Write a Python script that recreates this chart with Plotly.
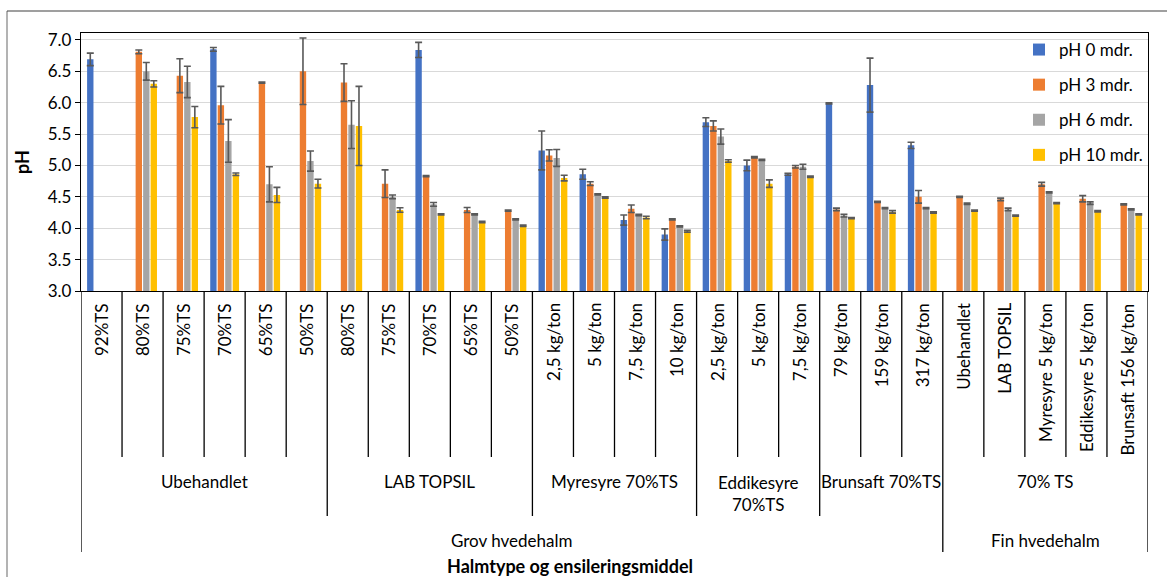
import plotly.graph_objects as go

# ---------------- data ----------------
categories = ["92%TS", "80%TS", "75%TS", "70%TS", "65%TS", "50%TS",
              "80%TS", "75%TS", "70%TS", "65%TS", "50%TS",
              "2,5 kg/ton", "5 kg/ton", "7,5 kg/ton", "10 kg/ton",
              "2,5 kg/ton", "5 kg/ton", "7,5 kg/ton",
              "79 kg/ton", "159 kg/ton", "317 kg/ton",
              "Ubehandlet", "LAB TOPSIL", "Myresyre 5 kg/ton",
              "Eddikesyre 5 kg/ton", "Brunsaft 156 kg/ton"]

group_labels = ["Ubehandlet", "LAB TOPSIL", "Myresyre 70%TS",
                "Eddikesyre<br>70%TS", "Brunsaft 70%TS", "70% TS"]
group_sizes = [6, 5, 4, 3, 3, 5]

straw_labels = ["Grov hvedehalm", "Fin hvedehalm"]
straw_sizes = [21, 5]

series_names = ["pH 0 mdr.", "pH 3 mdr.", "pH 6 mdr.", "pH 10 mdr."]

ph0 = [6.69, None, None, 6.85, None, None, None, None, 6.84, None, None,
       5.24, 4.86, 4.13, 3.90, 5.69, 5.00, 4.86, 5.99, 6.28, 5.32,
       None, None, None, None, None]
err0 = [0.10, 0, 0, 0.03, 0, 0, 0, 0, 0.12, 0, 0,
        0.31, 0.08, 0.08, 0.09, 0.07, 0.085, 0.015, 0.01, 0.43, 0.05,
        0, 0, 0, 0, 0]

ph3 = [None, 6.81, 6.43, 5.96, 6.32, 6.50, 6.32, 4.71, 4.83, 4.29, 4.28,
       5.16, 4.71, 4.31, 4.14, 5.63, 5.13, 4.98, 4.30, 4.42, 4.50,
       4.50, 4.46, 4.70, 4.47, 4.38]
err3 = [0, 0.03, 0.27, 0.30, 0.01, 0.53, 0.30, 0.22, 0.01, 0.04, 0.01,
        0.09, 0.03, 0.06, 0.01, 0.08, 0.01, 0.02, 0.02, 0.01, 0.10,
        0.01, 0.02, 0.03, 0.05, 0.01]

ph6 = [None, 6.50, 6.33, 5.39, 4.70, 5.07, 5.65, 4.50, 4.38, 4.22, 4.14,
       5.12, 4.54, 4.21, 4.03, 5.46, 5.09, 4.98, 4.20, 4.32, 4.32,
       4.39, 4.30, 4.57, 4.40, 4.30]
err6 = [0, 0.14, 0.25, 0.34, 0.28, 0.16, 0.38, 0.03, 0.03, 0.01, 0.01,
        0.135, 0.01, 0.01, 0.01, 0.12, 0.01, 0.04, 0.02, 0.01, 0.01,
        0.01, 0.02, 0.01, 0.02, 0.01]

ph10 = [None, 6.30, 5.77, 4.86, 4.53, 4.71, 5.63, 4.29, 4.22, 4.10, 4.04,
        4.80, 4.49, 4.17, 3.95, 5.07, 4.71, 4.82, 4.16, 4.26, 4.25,
        4.28, 4.20, 4.40, 4.27, 4.22]
err10 = [0, 0.05, 0.17, 0.02, 0.12, 0.07, 0.63, 0.035, 0.01, 0.01, 0.01,
         0.045, 0.01, 0.02, 0.015, 0.02, 0.06, 0.01, 0.01, 0.02, 0.01,
         0.01, 0.01, 0.01, 0.01, 0.01]

y_ticks = [3.0, 3.5, 4.0, 4.5, 5.0, 5.5, 6.0, 6.5, 7.0]

colors = ["#4472C4", "#ED7D31", "#A5A5A5", "#FFC000"]

# ---------------- geometry helpers ----------------
W, H = 1167, 577
PL, PR, PT, PB = 81, 1148, 33, 291   # plot area in pixels
FONT = "Lato"
FS = 17


def py(p):
    """pixel y -> paper y"""
    return (PB - p) / (PB - PT)


def px(p):
    """pixel x -> paper x"""
    return (p - PL) / (PR - PL)


n = len(categories)
x = list(range(n))
fig = go.Figure()
for gi, (name, vals, errs, col) in enumerate(zip(series_names, [ph0, ph3, ph6, ph10],
                                                 [err0, err3, err6, err10], colors)):
    fig.add_trace(go.Bar(
        x=x, y=vals, name=name,
        marker=dict(color=col, line=dict(width=0)),
        legendgroup=str(gi),
        error_y=dict(type="data", array=errs, visible=True,
                     color="#595959", thickness=1.6, width=3.5),
    ))

shapes = []
annotations = []

group_bounds = []
acc = 0
for s in group_sizes:
    acc += s
    group_bounds.append(acc)
straw_bounds = []
acc = 0
for s in straw_sizes:
    acc += s
    straw_bounds.append(acc)

# separators of the multi-level category axis
for b in range(0, n + 1):
    if b == 0 or b == n or b in straw_bounds:
        yend = py(552)
    elif b in group_bounds:
        yend = py(516)
    else:
        yend = py(457)
    shapes.append(dict(type="line", xref="x", yref="paper",
                       x0=b - 0.5, x1=b - 0.5, y0=0, y1=yend,
                       line=dict(color="black", width=1.3)))

# level-1 labels
for i, c in enumerate(categories):
    annotations.append(dict(x=i, y=py(301), xref="x", yref="paper",
                            text=c, showarrow=False, textangle=-90,
                            xanchor="center", yanchor="top",
                            font=dict(family=FONT, size=FS, color="black")))

# level-2 labels
start = 0
for lab, s in zip(group_labels, group_sizes):
    center = start + (s - 1) / 2
    two = "<br>" in lab
    annotations.append(dict(x=center, y=py(493 if two else 481), xref="x", yref="paper",
                            text=lab, showarrow=False,
                            xanchor="center", yanchor="middle",
                            font=dict(family=FONT, size=FS, color="black")))
    start += s

# level-3 labels
start = 0
for lab, s in zip(straw_labels, straw_sizes):
    center = start + (s - 1) / 2
    annotations.append(dict(x=center, y=py(540), xref="x", yref="paper",
                            text=lab, showarrow=False,
                            xanchor="center", yanchor="middle",
                            font=dict(family=FONT, size=FS, color="black")))
    start += s

# axis titles
annotations.append(dict(x=px(570), y=py(566), xref="paper", yref="paper",
                        text="<b>Halmtype og ensileringsmiddel</b>", showarrow=False,
                        xanchor="center", yanchor="middle",
                        font=dict(family=FONT, size=FS + 1, color="black")))
annotations.append(dict(x=px(22), y=0.5, xref="paper", yref="paper",
                        text="<b>pH</b>", showarrow=False, textangle=-90,
                        xanchor="center", yanchor="middle",
                        font=dict(family=FONT, size=FS + 1, color="black")))

# chart-area border (left & top)
shapes.append(dict(type="line", xref="paper", yref="paper",
                   x0=px(7), x1=px(7), y0=py(11), y1=py(580),
                   line=dict(color="#808080", width=1.2)))
shapes.append(dict(type="line", xref="paper", yref="paper",
                   x0=px(7), x1=px(1170), y0=py(11), y1=py(11),
                   line=dict(color="#404040", width=1.2)))

fig.update_layout(
    width=W, height=H,
    margin=dict(l=PL, r=W - PR, t=PT, b=H - PB, pad=0),
    paper_bgcolor="white", plot_bgcolor="white",
    barmode="group", bargap=0.27, bargroupgap=0.15,
    font=dict(family=FONT, size=FS, color="black"),
    shapes=shapes, annotations=annotations,
    legend=dict(x=px(1019), y=py(32), xanchor="left", yanchor="top",
                bgcolor="rgba(255,255,255,0)", tracegroupgap=10,
                font=dict(family=FONT, size=FS, color="black"),
                itemwidth=30),
    showlegend=True,
)
fig.update_xaxes(range=[-0.5, n - 0.5], showticklabels=False, ticks="",
                 showgrid=False, zeroline=False, showline=True,
                 linecolor="black", linewidth=1.3, mirror=True)
fig.update_yaxes(range=[3, 7.11], tickvals=y_ticks, tickformat=".1f",
                 showgrid=True, gridcolor="#d9d9d9", gridwidth=1.3,
                 zeroline=False, showline=True, linecolor="black", linewidth=1.3,
                 mirror=True, ticks="outside", ticklen=5, tickcolor="black",
                 tickfont=dict(family=FONT, size=FS, color="black"))

fig.write_html("out.html", config={"displayModeBar": False},
               post_script="document.body.style.margin='0';")
